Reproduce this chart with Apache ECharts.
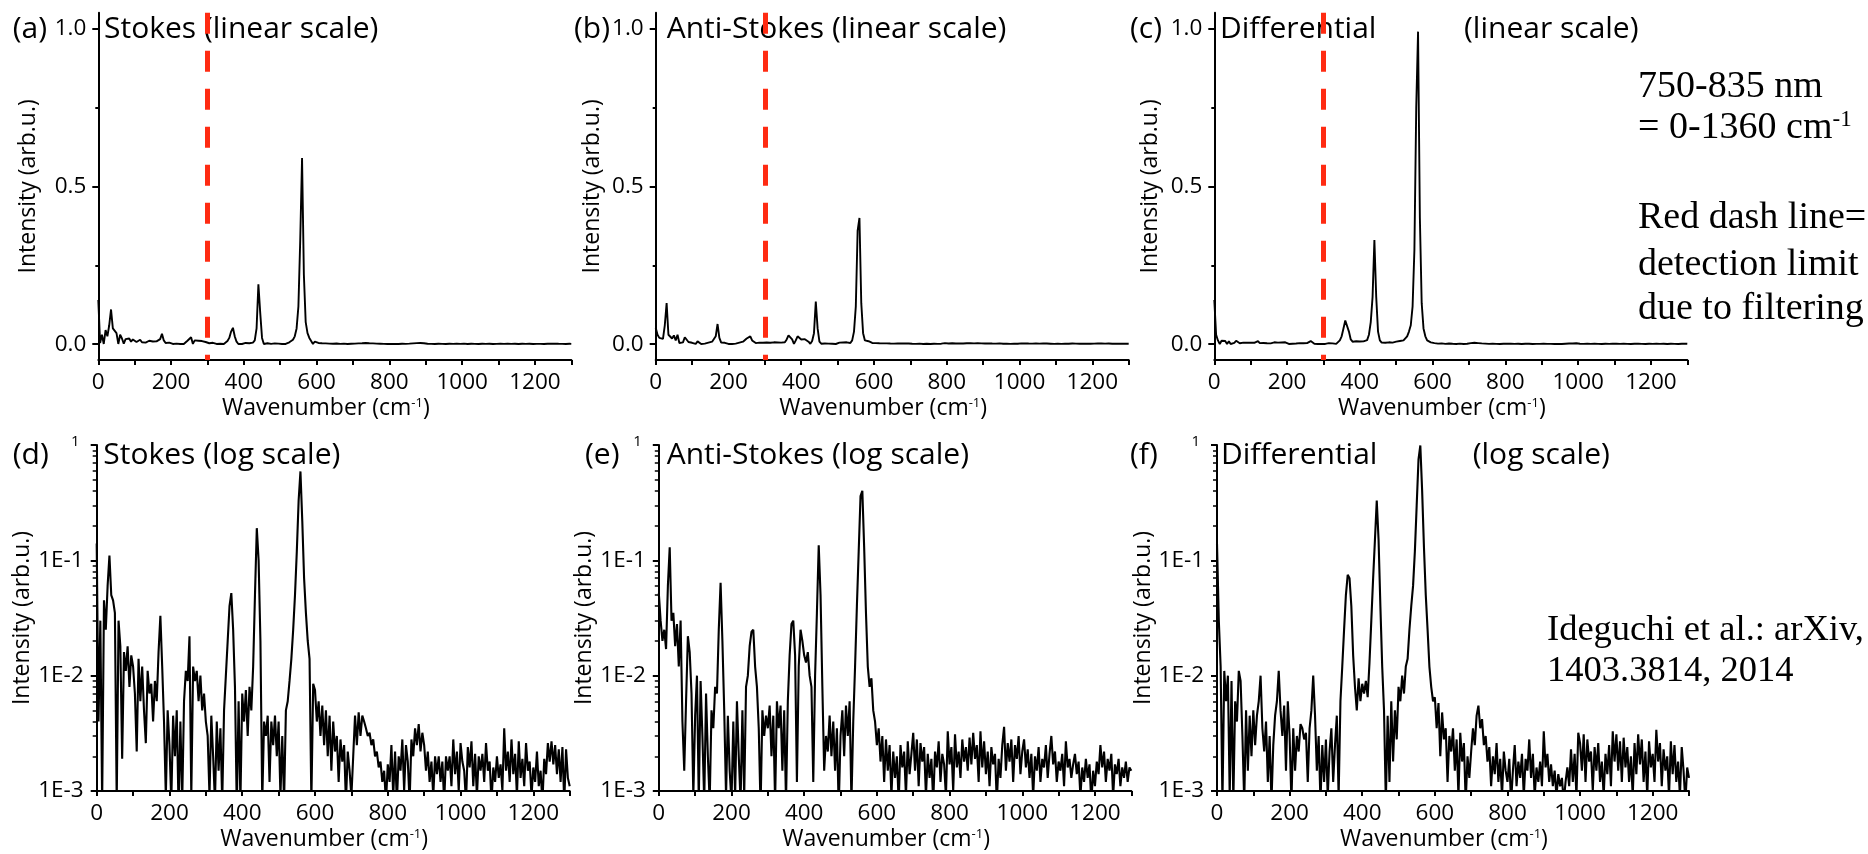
<!DOCTYPE html>
<html><head><meta charset="utf-8">
<script src="https://cdn.jsdelivr.net/npm/echarts@6/dist/echarts.min.js"></script>
<style>html,body{margin:0;padding:0;background:#fff}#c{width:1868px;height:854px}</style>
</head><body><div id="c"></div>
<script>
// ---------------- data ----------------
const wavenumbers = [
0,5,10,15,20,25,30,35,40,45,50,55,60,65,70,75,80,85,90,95,
100,105,110,115,120,125,130,135,140,145,150,155,160,165,170,175,180,185,190,195,
200,205,210,215,220,225,230,235,240,245,250,255,260,265,270,275,280,285,290,295,
300,305,310,315,320,325,330,335,340,345,350,355,360,365,370,375,380,385,390,395,
400,405,410,415,420,425,430,435,440,445,450,455,460,465,470,475,480,485,490,495,
500,505,510,515,520,525,530,535,540,545,550,555,560,565,570,575,580,585,590,595,
600,605,610,615,620,625,630,635,640,645,650,655,660,665,670,675,680,685,690,695,
700,705,710,715,720,725,730,735,740,745,750,755,760,765,770,775,780,785,790,795,
800,805,810,815,820,825,830,835,840,845,850,855,860,865,870,875,880,885,890,895,
900,905,910,915,920,925,930,935,940,945,950,955,960,965,970,975,980,985,990,995,
1000,1005,1010,1015,1020,1025,1030,1035,1040,1045,1050,1055,1060,1065,1070,1075,1080,1085,1090,1095,
1100,1105,1110,1115,1120,1125,1130,1135,1140,1145,1150,1155,1160,1165,1170,1175,1180,1185,1190,1195,
1200,1205,1210,1215,1220,1225,1230,1235,1240,1245,1250,1255,1260,1265,1270,1275,1280,1285,1290,1295,
1300];

const stokes = [
0.14,0.004,0.03,0.0008,0.045,0.025,0.06,0.11,0.05,0.045,0.035,0.0008,0.03,0.018,0.0019,0.016,0.011,0.018,0.008,0.015,
0.012,0.007,0.0022,0.014,0.006,0.012,0.005,0.0026,0.011,0.007,0.0085,0.004,0.009,0.006,0.016,0.033,0.012,0.004,0.0009,0.005,
0.0025,0.0008,0.0045,0.002,0.005,0.0007,0.004,0.0008,0.006,0.011,0.009,0.022,0.0009,0.012,0.009,0.011,0.006,0.01,0.005,0.007,
0.004,0.003,0.0009,0.0045,0.002,0.0008,0.004,0.0015,0.0035,0.0008,0.005,0.01,0.02,0.04,0.052,0.025,0.008,0.0007,0.006,0.0008,
0.007,0.004,0.0075,0.003,0.008,0.005,0.012,0.05,0.19,0.1,0.02,0.0008,0.004,0.003,0.0045,0.0012,0.004,0.0025,0.0045,0.002,
0.004,0.0009,0.003,0.0008,0.005,0.006,0.009,0.014,0.025,0.05,0.12,0.33,0.59,0.22,0.07,0.035,0.02,0.014,0.0008,0.0085,
0.0075,0.004,0.006,0.003,0.0055,0.0025,0.005,0.002,0.0045,0.0015,0.004,0.0022,0.003,0.0012,0.0028,0.0018,0.0025,0.0008,0.0022,0.0015,
0.0009,0.002,0.0045,0.0025,0.0048,0.003,0.0045,0.004,0.0035,0.003,0.0032,0.0025,0.0028,0.002,0.0022,0.0016,0.0018,0.0012,0.0015,0.0008,
0.0017,0.0012,0.0025,0.0009,0.0022,0.0008,0.002,0.0015,0.0028,0.001,0.0025,0.0018,0.0008,0.0028,0.002,0.0035,0.0025,0.0038,0.0022,0.0032,
0.0025,0.0015,0.0022,0.0012,0.0018,0.0009,0.002,0.0014,0.002,0.0012,0.0018,0.0008,0.002,0.0015,0.002,0.0011,0.0028,0.0014,0.0022,0.001,
0.0026,0.0018,0.0015,0.0008,0.0024,0.0016,0.0027,0.0011,0.0021,0.0009,0.002,0.0015,0.0021,0.0012,0.0026,0.0015,0.0018,0.0008,0.0016,0.0012,
0.002,0.0013,0.0017,0.001,0.0035,0.0015,0.0022,0.0012,0.0028,0.0014,0.0021,0.0009,0.0027,0.0013,0.0019,0.0011,0.0026,0.0015,0.0018,0.0009,
0.0016,0.0012,0.0022,0.0011,0.0015,0.0008,0.0019,0.0014,0.0026,0.0018,0.0027,0.0017,0.0025,0.0014,0.0023,0.0012,0.0024,0.0008,0.0023,0.0013,
0.0011];

const antiStokes = [
0.052,0.03,0.02,0.025,0.017,0.06,0.13,0.03,0.035,0.018,0.028,0.012,0.03,0.004,0.0015,0.006,0.022,0.016,0.007,0.0009,
0.0045,0.01,0.0008,0.009,0.003,0.0008,0.007,0.002,0.0008,0.005,0.0035,0.008,0.007,0.025,0.064,0.02,0.005,0.0009,0.0045,0.0015,
0.0008,0.004,0.0009,0.006,0.002,0.0008,0.005,0.0009,0.008,0.01,0.018,0.024,0.025,0.012,0.008,0.0035,0.0007,0.005,0.003,0.0045,
0.0035,0.0055,0.002,0.0045,0.0008,0.006,0.0035,0.0055,0.0015,0.005,0.0008,0.006,0.015,0.028,0.03,0.015,0.0012,0.012,0.025,0.02,
0.015,0.013,0.016,0.01,0.008,0.0012,0.01,0.035,0.135,0.05,0.008,0.0015,0.003,0.0022,0.0045,0.002,0.004,0.0015,0.0035,0.0007,
0.003,0.005,0.002,0.0055,0.003,0.006,0.0008,0.004,0.012,0.04,0.12,0.36,0.4,0.13,0.035,0.012,0.008,0.0095,0.005,0.004,
0.0025,0.0035,0.0018,0.003,0.0012,0.0028,0.0015,0.0025,0.0009,0.0022,0.0013,0.002,0.0008,0.0025,0.0016,0.0022,0.0009,0.0027,0.0014,0.0021,
0.0032,0.0015,0.0028,0.0011,0.0026,0.0018,0.0024,0.0009,0.0021,0.0013,0.0019,0.0008,0.0022,0.0016,0.0027,0.0012,0.0021,0.0017,0.0009,0.0033,
0.0017,0.0024,0.001,0.0031,0.0016,0.0022,0.0013,0.0028,0.0018,0.0024,0.0015,0.0029,0.0017,0.0032,0.0019,0.0025,0.0012,0.0033,0.0016,0.0027,
0.0014,0.0022,0.0011,0.0024,0.0017,0.0021,0.0008,0.0019,0.0013,0.0025,0.0036,0.0015,0.0026,0.0018,0.0028,0.0012,0.0025,0.0019,0.003,0.0014,
0.0022,0.0028,0.0016,0.0023,0.0013,0.0021,0.0009,0.002,0.0015,0.0024,0.0012,0.0019,0.0016,0.0025,0.0013,0.0021,0.003,0.0017,0.0022,0.0012,
0.0018,0.0015,0.0021,0.0011,0.0027,0.0016,0.0019,0.0013,0.0017,0.0021,0.0014,0.0018,0.0009,0.0016,0.0012,0.0019,0.0013,0.0017,0.0008,0.0015,
0.0011,0.0018,0.0014,0.0025,0.0016,0.0022,0.0012,0.0019,0.0015,0.0021,0.0009,0.0017,0.0014,0.0019,0.0011,0.0016,0.0013,0.0018,0.0012,0.0016,
0.0015];

const differential = [
0.14,0.03,0.012,0.0008,0.011,0.006,0.01,0.0009,0.009,0.0008,0.006,0.004,0.011,0.009,0.003,0.0008,0.005,0.0015,0.0045,0.002,
0.005,0.0025,0.0045,0.006,0.01,0.0035,0.0022,0.004,0.0012,0.003,0.0008,0.0025,0.0045,0.006,0.011,0.005,0.003,0.0055,0.0015,0.006,
0.003,0.0008,0.0035,0.0015,0.003,0.0022,0.0038,0.0035,0.0028,0.0032,0.0012,0.0035,0.005,0.01,0.0045,0.0015,0.003,0.0008,0.0025,0.0012,
0.0028,0.0009,0.0022,0.0035,0.0012,0.0025,0.0045,0.0009,0.006,0.012,0.025,0.05,0.075,0.07,0.04,0.015,0.008,0.005,0.0095,0.006,
0.0085,0.007,0.009,0.0065,0.013,0.03,0.07,0.15,0.33,0.15,0.04,0.012,0.005,0.0008,0.0045,0.0012,0.006,0.0018,0.005,0.0028,
0.008,0.006,0.01,0.007,0.012,0.014,0.025,0.04,0.06,0.12,0.3,0.75,0.99,0.4,0.13,0.05,0.025,0.012,0.008,0.006,
0.0065,0.0035,0.0058,0.002,0.0048,0.0028,0.0035,0.0012,0.003,0.0022,0.0035,0.0015,0.0028,0.0009,0.0032,0.0018,0.0026,0.0008,0.002,0.0013,
0.0022,0.0035,0.0025,0.0045,0.0055,0.0035,0.0042,0.0025,0.003,0.0018,0.0024,0.0011,0.002,0.0014,0.0026,0.0012,0.0019,0.0009,0.0022,0.0015,
0.0012,0.0019,0.0008,0.0015,0.0025,0.0011,0.0018,0.0013,0.0021,0.0009,0.0019,0.0015,0.0028,0.0013,0.0021,0.0009,0.0016,0.0012,0.0018,0.0011,
0.0033,0.0016,0.0021,0.0012,0.0017,0.0011,0.0015,0.0009,0.0014,0.0011,0.0013,0.0008,0.0012,0.0016,0.0011,0.0023,0.0012,0.0021,0.0009,0.0032,
0.0026,0.0015,0.0031,0.0012,0.0028,0.0018,0.0022,0.001,0.0024,0.0015,0.0026,0.0012,0.0018,0.0009,0.0021,0.0014,0.0025,0.0011,0.0033,0.0018,
0.0031,0.0015,0.0027,0.0012,0.0029,0.0016,0.0024,0.0012,0.002,0.0009,0.0026,0.0014,0.0031,0.0017,0.0028,0.0012,0.0022,0.0009,0.0027,0.0016,
0.0021,0.0012,0.0034,0.0018,0.0026,0.0011,0.0023,0.0015,0.002,0.0009,0.0027,0.0014,0.0025,0.0012,0.0018,0.0009,0.0024,0.0015,0.0008,0.0016,
0.0013];

const xTickLabels = [0, 200, 400, 600, 800, 1000, 1200];
const linearTickLabels = [0, 0.5, 1.0];
const linearMinorTicks = [0.25, 0.75];
const logTickLabels = ['1E-3', '1E-2', '1E-1', '1'];
const detectionLimit = 300;
const panelLetters = ['(a)', '(b)', '(c)', '(d)', '(e)', '(f)'];

// ---------------- chart ----------------
const SANS = '"Open Sans", "Noto Sans", sans-serif';
const SERIF = '"Liberation Serif", "DejaVu Serif", serif';
const LIN_MIN = -0.05, LIN_MAX = 1.05;
const TICK_FS = 22.5, NAME_FS = 23, TITLE_FS = 30;

const panels = [
  { left: 98.3,  top: 12.7, width: 473, height: 347.3, log: false, values: stokes,       gap: 58 },
  { left: 655.7, top: 12.7, width: 473, height: 347.3, log: false, values: antiStokes,   gap: 52 },
  { left: 1214.3,top: 12.7, width: 473, height: 347.3, log: false, values: differential, gap: 52 },
  { left: 96.7,  top: 445,  width: 473, height: 346,   log: true,  values: stokes,       gap: 58 },
  { left: 658.8, top: 445,  width: 472.5, height: 346, log: true,  values: antiStokes,   gap: 54 },
  { left: 1217,  top: 445,  width: 472, height: 346,   log: true,  values: differential, gap: 54 }
];

const logMinor = [];
for (let e = -3; e < 0; e++) for (let k = 2; k <= 9; k++) logMinor.push(e + Math.log10(k));

const grid = [], xAxis = [], yAxis = [], series = [];
panels.forEach((p, i) => {
  grid.push({ left: p.left, top: p.top, width: p.width, height: p.height, containLabel: false, outerBoundsMode: 'none' });
  xAxis.push({
    type: 'value', gridIndex: i, min: 0, max: 1300, interval: 100,
    axisLine: { show: true, onZero: false, lineStyle: { color: '#000', width: 2 } },
    axisTick: { show: true, length: 5, lineStyle: { color: '#000', width: 2 } },
    axisLabel: { formatter: v => xTickLabels.includes(v) ? String(v) : '', margin: 11,
                 fontSize: TICK_FS, fontFamily: SANS, color: '#000' },
    splitLine: { show: false },
    name: 'Wavenumber (cm{sup|-1})', nameLocation: 'middle', nameGap: 37,
    nameTextStyle: { fontSize: NAME_FS, fontFamily: SANS, color: '#000', padding: [0, 18, 0, 0],
      rich: { sup: { fontSize: 13, fontFamily: SANS, color: '#000', verticalAlign: 'top', padding: [0, 0, 10, 0] } } }
  });
  const nameCfg = { name: 'Intensity (arb.u.)', nameLocation: 'middle', nameGap: p.gap,
    nameTextStyle: { fontSize: NAME_FS, fontFamily: SANS, color: '#000' } };
  if (!p.log) {
    yAxis.push(Object.assign({
      type: 'value', gridIndex: i, position: 'left', min: LIN_MIN, max: LIN_MAX,
      axisLine: { show: true, onZero: false, lineStyle: { color: '#000', width: 2 } },
      axisTick: { show: true, length: 6, customValues: linearTickLabels, lineStyle: { color: '#000', width: 2 } },
      axisLabel: { customValues: linearTickLabels, formatter: v => v.toFixed(1), margin: 12,
                   fontSize: TICK_FS, fontFamily: SANS, color: '#000' },
      splitLine: { show: false }
    }, nameCfg));
    yAxis.push({
      type: 'value', gridIndex: i, position: 'left', min: LIN_MIN, max: LIN_MAX,
      axisLine: { show: false }, axisLabel: { show: false }, splitLine: { show: false },
      axisTick: { show: true, length: 3, customValues: linearMinorTicks, lineStyle: { color: '#000', width: 2 } }
    });
  } else {
    yAxis.push(Object.assign({
      type: 'log', logBase: 10, gridIndex: i, position: 'left', min: 0.001, max: 1,
      axisLine: { show: true, onZero: false, lineStyle: { color: '#000', width: 2 } },
      axisTick: { show: true, length: 6, lineStyle: { color: '#000', width: 2 } },
      axisLabel: {
        formatter: v => {
          const lbl = logTickLabels[Math.round(Math.log10(v)) + 3];
          return lbl === '1' ? '{one|1}' : lbl;
        },
        margin: 13, fontSize: TICK_FS, fontFamily: SANS, color: '#000',
        rich: { one: { fontSize: 15, fontFamily: SANS, color: '#000', padding: [0, 4, 6, 0] } }
      },
      splitLine: { show: false }
    }, nameCfg));
    yAxis.push({
      type: 'value', gridIndex: i, position: 'left', min: -3, max: 0,
      axisLine: { show: false }, axisLabel: { show: false }, splitLine: { show: false },
      axisTick: { show: true, length: 4, customValues: logMinor, lineStyle: { color: '#000', width: 1.5 } }
    });
  }
  const s = {
    type: 'line', xAxisIndex: i, yAxisIndex: 2 * i,
    data: wavenumbers.map((w, k) => [w, p.values[k]]),
    showSymbol: false, symbol: 'none', clip: true, z: 3,
    lineStyle: { color: '#000', width: p.log ? 2.1 : 1.9 }, animation: false, silent: true
  };
  if (!p.log) {
    s.markLine = {
      silent: true, symbol: ['none', 'none'], label: { show: false }, animation: false,
      lineStyle: { color: '#ff2b12', width: 5, type: [21, 17], opacity: 1 },
      emphasis: { disabled: true },
      data: [[{ coord: [detectionLimit, LIN_MAX] }, { coord: [detectionLimit, LIN_MIN] }]]
    };
  }
  series.push(s);
});

function txt(text, x, y, size, family, rich) {
  return { type: 'text', x: x, y: y, z: 0, silent: true,
    style: { text: text, fontSize: size, fontFamily: family, fill: '#000', align: 'left', verticalAlign: 'middle', rich: rich || undefined } };
}
const supRich = { sup: { fontSize: 23, fontFamily: SERIF, fill: '#000', verticalAlign: 'top', padding: [0, 0, 16, 0] } };

const graphic = [
  txt(panelLetters[0], 12.7, 29.3, TITLE_FS, SANS),
  txt(panelLetters[1], 574, 29.3, TITLE_FS, SANS),
  txt(panelLetters[2], 1130, 29.3, TITLE_FS, SANS),
  txt(panelLetters[3], 12.7, 455, TITLE_FS, SANS),
  txt(panelLetters[4], 585, 455, TITLE_FS, SANS),
  txt(panelLetters[5], 1130, 455, TITLE_FS, SANS),
  txt('Stokes (linear scale)', 104, 29.3, TITLE_FS, SANS),
  txt('Anti-Stokes (linear scale)', 666.7, 29.3, TITLE_FS, SANS),
  txt('Differential', 1220, 29.3, TITLE_FS, SANS),
  txt('(linear scale)', 1464, 29.3, TITLE_FS, SANS),
  txt('Stokes (log scale)', 103.3, 455, TITLE_FS, SANS),
  txt('Anti-Stokes (log scale)', 666.7, 455, TITLE_FS, SANS),
  txt('Differential', 1221, 455, TITLE_FS, SANS),
  txt('(log scale)', 1472.7, 455, TITLE_FS, SANS),
  txt('750-835 nm', 1638, 86.7, 38, SERIF),
  txt('= 0-1360 cm{sup|-1}', 1638, 128, 38, SERIF, supRich),
  txt('Red dash line=', 1638, 218.3, 38, SERIF),
  txt('detection limit', 1638, 265, 38, SERIF),
  txt('due to filtering', 1638, 309, 38, SERIF),
  txt('Ideguchi et al.: arXiv,', 1547, 630, 36.5, SERIF),
  txt('1403.3814, 2014', 1547, 671.7, 36.5, SERIF)
];

const chart = echarts.init(document.getElementById('c'), null, { renderer: 'canvas' });
chart.setOption({
  animation: false, backgroundColor: '#fff',
  textStyle: { fontFamily: SANS, color: '#000' },
  grid, xAxis, yAxis, series, graphic
});
</script></body></html>
